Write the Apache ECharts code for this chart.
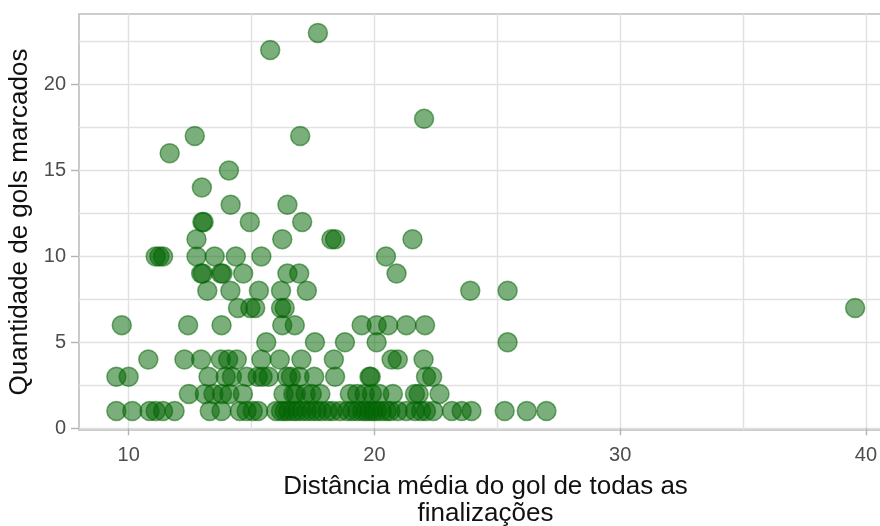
<!DOCTYPE html>
<html>
<head>
<meta charset="utf-8">
<script src="https://cdn.jsdelivr.net/npm/echarts@6/dist/echarts.min.js"></script>
<style>
  html, body { margin: 0; padding: 0; background: #ffffff; }
  #chart { width: 880px; height: 526px; }
</style>
</head>
<body>
<div id="chart"></div>
<script>
// Goals scored, one entry per row of players
const goalValues = [23, 22, 18, 17, 16, 15, 14, 13, 12, 11, 10, 9, 8, 7, 6, 5, 4, 3, 2, 1];

// Average shot distance of each player, grouped by the matching entry of goalValues
const distanceByGoals = [
  [17.70],
  [15.76],
  [22.02],
  [12.69, 16.98],
  [11.67],
  [14.08],
  [12.98],
  [14.15, 16.46],
  [13.0, 13.05, 14.93, 17.06],
  [12.76, 16.25, 18.25, 18.4, 21.55],
  [11.1, 11.25, 11.4, 12.76, 13.5, 14.36, 15.4, 20.47],
  [12.95, 13.02, 13.75, 13.82, 14.66, 16.46, 16.94, 20.9],
  [13.2, 14.14, 15.3, 16.2, 17.25, 23.9, 25.42],
  [14.45, 14.95, 15.15, 16.2, 16.35, 39.56],
  [9.72, 12.42, 13.78, 16.25, 16.76, 19.48, 20.09, 20.56, 21.3, 22.06],
  [15.6, 17.58, 18.8, 20.09, 25.42],
  [10.8, 12.27, 12.95, 13.75, 14.05, 14.4, 15.4, 16.15, 17.03, 18.35, 20.7, 20.95, 22.0],
  [9.5, 10.0, 13.25, 13.95, 14.2, 14.8, 15.25, 15.45, 15.7, 16.45, 16.6, 16.95, 17.55, 18.4, 19.8, 19.85, 22.1, 22.35],
  [12.45, 13.1, 13.45, 13.8, 14.1, 14.65, 16.3, 16.7, 16.8, 17.2, 17.45, 17.8, 19.0, 19.3, 19.6, 19.9, 20.2, 20.75, 21.65, 21.8, 22.65],
  [9.5, 10.15, 10.85, 11.1, 11.4, 11.87, 13.3, 13.78, 14.52, 14.8, 15.05, 15.27, 16.0, 16.2, 16.35, 16.5, 16.7, 16.85,
   17.05, 17.25, 17.45, 17.65, 17.85, 18.1, 18.3, 18.6, 18.9, 19.1, 19.3, 19.5, 19.65, 19.8, 19.95, 20.1, 20.3, 20.5,
   20.65, 20.95, 21.3, 21.65, 21.9, 22.1, 22.4, 23.15, 23.55, 23.95, 25.3, 26.2, 27.0]
];

// Axis breaks
const xMajorTicks = [10, 20, 30, 40];
const xMinorTicks = [15, 25, 35];
const yMajorTicks = [0, 5, 10, 15, 20];
const yMinorTicks = [2.5, 7.5, 12.5, 17.5, 22.5];

const xTitle = 'Distância média do gol de todas as\nfinalizações';
const yTitle = 'Quantidade de gols marcados';

const points = [];
goalValues.forEach((g, i) => {
  distanceByGoals[i].forEach(d => points.push([d, g]));
});

const gridLineStyle = { color: '#e1e1e1', width: 1.4 };
const tickStyle = { color: '#b3b3b3', width: 1.4 };
const tickLabel = { fontFamily: 'Liberation Sans', fontSize: 20, color: '#4d4d4d' };

const xRange = { min: 7.98, max: 41.06 };
const yRange = { min: -0.1, max: 24.1 };

const chart = echarts.init(document.getElementById('chart'), null, { renderer: 'canvas' });
chart.setOption({
  animation: false,
  backgroundColor: '#ffffff',
  grid: {
    left: 79, right: -12, top: 14, bottom: 96,
    outerBoundsMode: 'none',
    containLabel: false,
    show: true,
    borderColor: '#bdbdbd',
    borderWidth: 1.6,
    backgroundColor: 'transparent'
  },
  xAxis: [
    {
      type: 'value', ...xRange,
      name: xTitle,
      nameLocation: 'middle',
      nameGap: 43,
      nameTextStyle: { fontFamily: 'Liberation Sans', fontSize: 26, color: '#111111', lineHeight: 27 },
      axisLine: { show: false },
      axisTick: { show: true, length: 7, lineStyle: tickStyle, customValues: xMajorTicks },
      axisLabel: { ...tickLabel, margin: 15, customValues: xMajorTicks },
      splitLine: { show: true, lineStyle: gridLineStyle }
    },
    {
      type: 'value', ...xRange,
      position: 'bottom',
      axisLine: { show: false },
      axisTick: { show: false, customValues: xMinorTicks },
      axisLabel: { show: false, customValues: xMinorTicks },
      splitLine: { show: true, lineStyle: gridLineStyle }
    }
  ],
  yAxis: [
    {
      type: 'value', ...yRange,
      name: yTitle,
      nameLocation: 'middle',
      nameRotate: 90,
      nameGap: 44,
      nameTextStyle: { fontFamily: 'Liberation Sans', fontSize: 26, color: '#111111' },
      axisLine: { show: false },
      axisTick: { show: true, length: 8, lineStyle: tickStyle, customValues: yMajorTicks },
      axisLabel: { ...tickLabel, margin: 13, customValues: yMajorTicks },
      splitLine: { show: true, lineStyle: gridLineStyle }
    },
    {
      type: 'value', ...yRange,
      position: 'left',
      axisLine: { show: false },
      axisTick: { show: false, customValues: yMinorTicks },
      axisLabel: { show: false, customValues: yMinorTicks },
      splitLine: { show: true, lineStyle: gridLineStyle }
    }
  ],
  series: [
    {
      type: 'scatter',
      xAxisIndex: 0,
      yAxisIndex: 0,
      data: points,
      symbol: 'circle',
      symbolSize: 19,
      itemStyle: {
        color: 'rgba(0,100,0,0.65)',
        borderColor: 'rgba(0,100,0,0.65)',
        borderWidth: 1.5
      },
      silent: true
    }
  ]
});
</script>
</body>
</html>
